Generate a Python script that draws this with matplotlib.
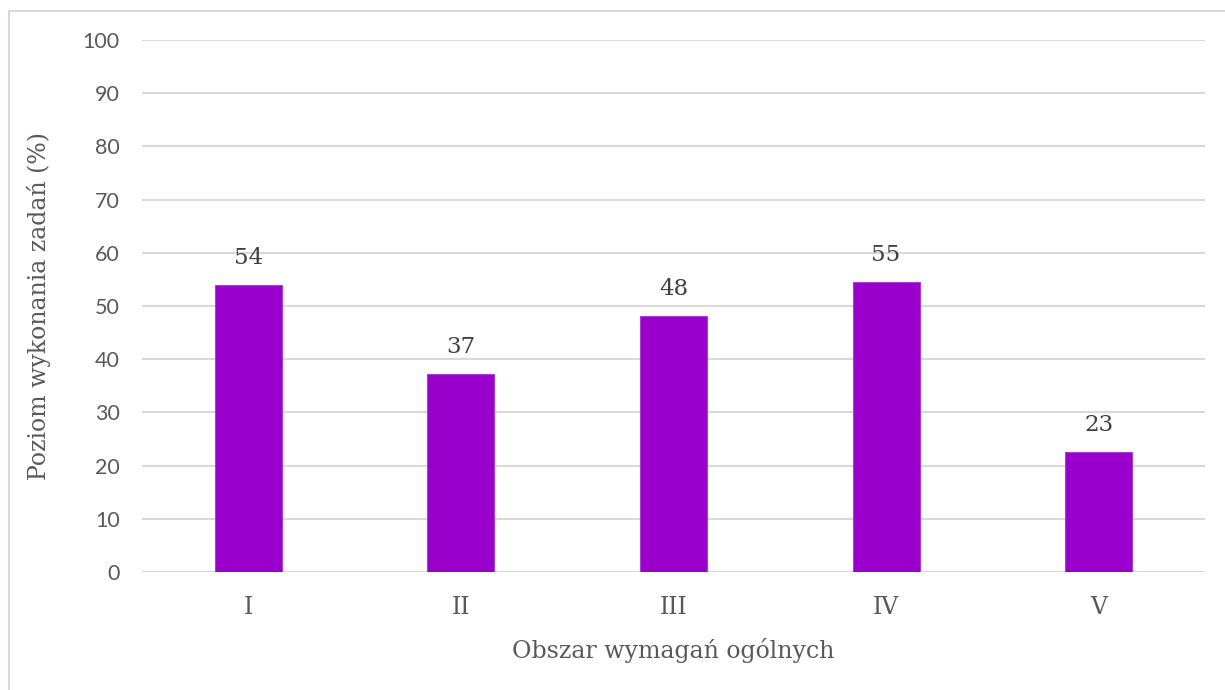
import matplotlib
matplotlib.use("Agg")
import matplotlib.pyplot as plt
from matplotlib.patches import Rectangle

categories = ["I", "II", "III", "IV", "V"]
values = [54.0, 37.3, 48.2, 54.6, 22.6]
labels = ["54", "37", "48", "55", "23"]
yticks = [0, 10, 20, 30, 40, 50, 60, 70, 80, 90, 100]

xlabel = "Obszar wymagań ogólnych"
ylabel = "Poziom wykonania zadań (%)"

W, H = 1225, 690
fig = plt.figure(figsize=(W / 100, H / 100), dpi=100)
ax = fig.add_axes([142 / W, 1 - 572 / H, (1205 - 142) / W, (572 - 40) / H])

serif = ["DejaVu Serif"]
sans = ["Lato", "DejaVu Sans"]
txt = "#595959"

x = list(range(len(categories)))
bars = ax.bar(x, values, width=0.315, color="#9900CC", edgecolor="#A83ED6",
              linewidth=0.8, zorder=3)
for xi, v, lab in zip(x, values, labels):
    ax.annotate(lab, (xi, v), xytext=(0, 11), textcoords="offset points",
                ha="center", va="bottom", fontsize=16.5, family=serif,
                color="#404040")

ax.set_xlim(-0.5, len(categories) - 0.5)
ax.set_ylim(0, 100)
ax.set_yticks(yticks)
ax.set_yticklabels([str(t) for t in yticks], family=sans, fontsize=15.5, color=txt)
ax.set_xticks(x)
ax.set_xticklabels(categories, family=serif, fontsize=17, color=txt)
ax.tick_params(axis="both", length=0)
ax.tick_params(axis="y", pad=16)
ax.tick_params(axis="x", pad=17)
ax.grid(axis="y", color="#D9D9D9", linewidth=1.5, zorder=0)
for s in ax.spines.values():
    s.set_visible(False)

ax.set_xlabel(xlabel, family=serif, fontsize=17, color=txt, labelpad=14)
ax.set_ylabel(ylabel, family=serif, fontsize=17, color=txt, labelpad=23)

fig.patches.append(Rectangle((8.5 / W, -0.1), 1.2, 1 - 10.5 / H + 0.1,
                             transform=fig.transFigure, fill=False,
                             edgecolor="#D9D9D9", linewidth=1.5))

fig.savefig("out.png", dpi=100)
